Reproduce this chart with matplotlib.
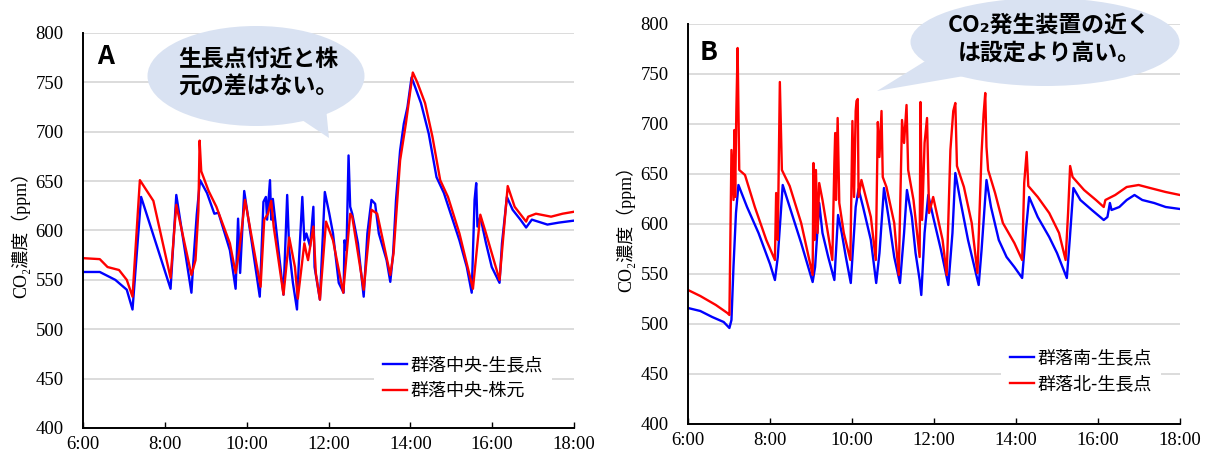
import matplotlib
matplotlib.use("Agg")
import matplotlib.pyplot as plt
from matplotlib.patches import Ellipse, Polygon

plt.rcParams['font.family'] = ['Liberation Serif', 'Noto Sans CJK JP']

# Panel A: time (h) and CO2 (ppm)
t_a_blue = [6.00, 6.41, 6.79, 7.07, 7.21, 7.42, 8.14, 8.28, 8.65, 8.70, 8.78, 8.86, 9.03, 9.21, 9.31,
            9.59, 9.73, 9.79, 9.84, 9.94, 10.32, 10.41, 10.47, 10.50, 10.57, 10.60, 10.64, 10.90,
            10.99, 11.04, 11.13, 11.23, 11.27, 11.36, 11.41, 11.46, 11.55, 11.63, 11.66, 11.79,
            11.91, 12.02, 12.11, 12.25, 12.37, 12.39, 12.44, 12.49, 12.53, 12.58, 12.72, 12.86,
            12.95, 13.05, 13.14, 13.23, 13.42, 13.51, 13.58, 13.65, 13.75, 13.84, 13.93, 14.03,
            14.12, 14.26, 14.45, 14.64, 14.82, 15.01, 15.20, 15.38, 15.50, 15.57, 15.61, 15.64,
            15.71, 15.85, 15.99, 16.18, 16.24, 16.36, 16.50, 16.69, 16.83, 16.97, 17.35, 17.63, 18.00]
v_a_blue = [558, 558, 550, 540, 520, 634, 541, 636, 537, 570, 616, 651, 638, 617, 618,
            580, 541, 612, 557, 640, 533, 629, 634, 611, 651, 611, 632, 535,
            636, 580, 547, 520, 563, 634, 590, 597, 584, 624, 563, 530,
            639, 617, 597, 547, 537, 590, 580, 676, 624, 617, 587, 533,
            597, 631, 627, 597, 570, 548, 577, 631, 681, 708, 725, 755,
            745, 729, 698, 654, 638, 614, 590, 563, 537, 631, 648, 604,
            614, 587, 563, 547, 587, 634, 621, 611, 603, 611, 606, 608, 610]

t_a_red = [6.00, 6.41, 6.60, 6.88, 7.07, 7.21, 7.39, 7.72, 8.14, 8.28, 8.65, 8.75, 8.82, 8.85, 8.89,
           9.07, 9.26, 9.59, 9.73, 9.82, 9.96, 10.34, 10.43, 10.52, 10.60, 10.66, 10.90, 11.04,
           11.18, 11.25, 11.41, 11.46, 11.50, 11.63, 11.69, 11.79, 11.94, 12.11, 12.36, 12.53,
           12.58, 12.86, 13.05, 13.19, 13.33, 13.51, 13.59, 13.75, 13.89, 14.06, 14.17, 14.36,
           14.54, 14.73, 14.92, 15.20, 15.53, 15.71, 15.85, 16.18, 16.38, 16.55, 16.83, 16.88,
           17.07, 17.44, 17.72, 18.00]
v_a_red = [572, 571, 563, 560, 550, 533, 651, 630, 552, 626, 555, 570, 620, 691, 660,
           640, 624, 587, 557, 580, 631, 543, 611, 617, 630, 604, 535, 593,
           563, 531, 587, 577, 570, 604, 557, 530, 609, 590, 537, 617,
           614, 540, 621, 617, 590, 555, 577, 671, 708, 760, 750, 729,
           695, 651, 634, 597, 541, 616, 597, 550, 645, 624, 609, 614,
           617, 614, 617, 619]

# Panel B
t_b_blue = [6.00, 6.30, 6.59, 6.87, 7.01, 7.06, 7.11, 7.17, 7.23, 7.44, 7.72, 8.00, 8.12, 8.19, 8.31,
            8.48, 8.76, 9.04, 9.10, 9.20, 9.28, 9.42, 9.57, 9.66, 9.75, 9.85, 9.97, 10.09, 10.16,
            10.27, 10.46, 10.59, 10.67, 10.78, 10.89, 11.03, 11.17, 11.27, 11.34, 11.46, 11.55,
            11.65, 11.69, 11.77, 11.86, 11.98, 12.17, 12.35, 12.45, 12.52, 12.64, 12.83, 13.09,
            13.16, 13.28, 13.39, 13.58, 13.77, 13.96, 14.15, 14.25, 14.32, 14.53, 14.81, 15.00,
            15.24, 15.31, 15.40, 15.57, 15.85, 16.14, 16.23, 16.29, 16.33, 16.52, 16.70, 16.89,
            17.08, 17.37, 17.65, 18.00]
v_b_blue = [516, 513, 507, 502, 496, 504, 558, 611, 639, 617, 591, 560, 544, 567, 639,
            617, 581, 542, 557, 621, 591, 567, 544, 609, 591, 567, 541, 617, 635,
            617, 584, 541, 571, 636, 607, 567, 541, 591, 634, 607, 571,
            544, 529, 591, 629, 607, 574, 539, 591, 651, 624, 584, 539,
            574, 644, 617, 584, 567, 557, 546, 597, 627, 607, 587, 571,
            546, 584, 636, 624, 614, 604, 607, 621, 614, 617, 624, 629,
            624, 621, 617, 615]

t_b_red = [6.00, 6.30, 6.68, 6.96, 7.01, 7.04, 7.06, 7.11, 7.13, 7.15, 7.18, 7.21, 7.25, 7.39, 7.63,
           7.91, 8.12, 8.15, 8.19, 8.24, 8.29, 8.48, 8.76, 9.04, 9.06, 9.09, 9.12, 9.16, 9.20,
           9.28, 9.52, 9.57, 9.59, 9.61, 9.65, 9.69, 9.80, 9.96, 10.01, 10.05, 10.09, 10.11,
           10.14, 10.16, 10.23, 10.46, 10.58, 10.63, 10.67, 10.72, 10.75, 10.84, 11.03, 11.14,
           11.22, 11.27, 11.33, 11.37, 11.50, 11.65, 11.67, 11.71, 11.77, 11.83, 11.88, 11.98,
           12.21, 12.31, 12.40, 12.47, 12.52, 12.56, 12.73, 12.92, 13.06, 13.16, 13.21, 13.25,
           13.28, 13.32, 13.49, 13.68, 13.96, 14.15, 14.20, 14.26, 14.30, 14.53, 14.81, 15.05,
           15.21, 15.27, 15.32, 15.38, 15.66, 15.95, 16.14, 16.18, 16.42, 16.70, 16.99, 17.27,
           17.65, 18.00]
v_b_red = [534, 528, 519, 511, 509, 607, 674, 624, 694, 627, 715, 776, 654, 649, 617,
           584, 564, 631, 584, 742, 654, 638, 601, 549, 661, 584, 654, 591, 641,
           624, 564, 661, 691, 624, 706, 621, 591, 564, 703, 627, 713, 723,
           725, 627, 644, 607, 564, 702, 667, 713, 647, 637, 601, 549,
           704, 681, 719, 654, 624, 567, 722, 604, 681, 706, 611, 627,
           584, 549, 674, 713, 721, 658, 637, 601, 551, 671, 710, 731,
           677, 654, 631, 601, 581, 564, 641, 672, 638, 627, 611, 591,
           564, 611, 658, 647, 634, 624, 617, 624, 629, 637, 639, 636,
           632, 629]

hour_ticks = [6, 8, 10, 12, 14, 16, 18]
y_ticks = [400, 450, 500, 550, 600, 650, 700, 750, 800]

W, H = 1207, 457
fig = plt.figure(figsize=(W / 100, H / 100), dpi=100)
sans = ['Noto Sans CJK JP', 'DejaVu Sans']


def px(x, y):
    return (x / W, 1 - y / H)


def box(l, t, r, b):
    return [l / W, 1 - b / H, (r - l) / W, (b - t) / H]


def setup(ax):
    ax.set_xlim(6, 18)
    ax.set_ylim(400, 800)
    ax.set_xticks(hour_ticks)
    ax.set_xticklabels([f"{h}:00" for h in hour_ticks])
    ax.set_yticks(y_ticks)
    ax.tick_params(axis='x', direction='in', length=4, width=1, labelsize=13.5, pad=6)
    ax.tick_params(axis='y', length=0, labelsize=13.5, pad=14)
    ax.grid(axis='y', color='#d9d9d9', linewidth=1.3)
    ax.set_axisbelow(True)
    for s in ['top', 'right']:
        ax.spines[s].set_visible(False)
    for s in ['left', 'bottom']:
        ax.spines[s].set_linewidth(1.4)
    ax.set_ylabel("CO₂濃度（ppm）", fontsize=13, labelpad=4)


def bubble(center, w, h, tail):
    e = Ellipse(px(*center), w / W, h / H, transform=fig.transFigure,
                facecolor='#d9e2f2', edgecolor='none', zorder=5)
    fig.add_artist(e)
    p = Polygon([px(*pt) for pt in tail], closed=True, transform=fig.transFigure,
                facecolor='#d9e2f2', edgecolor='none', zorder=5)
    fig.add_artist(p)


def legend(ax, cx, cy):
    ax.legend(loc='center', bbox_to_anchor=px(cx, cy), bbox_transform=fig.transFigure,
              frameon=True, framealpha=1, edgecolor='none', fancybox=False,
              prop={'family': sans, 'size': 13}, handlelength=1.35, handletextpad=0.2,
              labelspacing=0.45, borderpad=0.5)


ax1 = fig.add_axes(box(83, 33, 574, 428))
setup(ax1)
ax1.plot(t_a_blue, v_a_blue, color='#0000ff', lw=1.7, label='群落中央-生長点')
ax1.plot(t_a_red, v_a_red, color='#ff0000', lw=1.7, label='群落中央-株元')
legend(ax1, 463, 378)

ax2 = fig.add_axes(box(688, 24, 1180, 424))
setup(ax2)
ax2.plot(t_b_blue, v_b_blue, color='#0000ff', lw=1.7, label='群落南-生長点')
ax2.plot(t_b_red, v_b_red, color='#ff0000', lw=1.7, label='群落北-生長点')
legend(ax2, 1081, 371)

fig.text(*px(106, 57), "A", fontsize=19, family=sans, weight='bold', ha='center', va='center')
fig.text(*px(709, 52), "B", fontsize=19, family=sans, weight='bold', ha='center', va='center')

bubble((256, 76), 217, 100, [(290, 112), (326, 108), (329, 138)])
fig.text(*px(258, 73), "生長点付近と株\n元の差はない。", fontsize=16.5, family=sans, weight='bold',
         ha='center', va='center', linespacing=1.3, zorder=6)

bubble((1045, 42), 269, 88, [(927, 60), (964, 76), (877, 91)])
fig.text(*px(1049, 39), "CO₂発生装置の近く\nは設定より高い。", fontsize=16.5, family=sans,
         weight='bold', ha='center', va='center', linespacing=1.3, zorder=6)

fig.savefig("out.png", dpi=100)
